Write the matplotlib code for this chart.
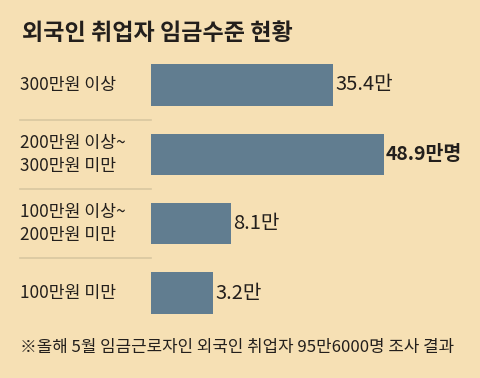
import matplotlib
matplotlib.use("Agg")
import matplotlib.pyplot as plt
from matplotlib.transforms import blended_transform_factory

plt.rcParams['font.family'] = ['Noto Sans CJK KR', 'DejaVu Sans']

title = "외국인 취업자 임금수준 현황"
categories = ["300만원 이상", "200만원 이상~\n300만원 미만", "100만원 이상~\n200만원 미만", "100만원 미만"]
values = [35.4, 48.9, 8.1, 3.2]
value_labels = ["35.4만", "48.9만명", "8.1만", "3.2만"]
highlight = [False, True, False, False]
footnote = "※올해 5월 임금근로자인 외국인 취업자 95만6000명 조사 결과"

BG = "#f6e0b4"
BAR = "#617d90"
SEP = "#d9c7a0"
TXT = "#231f1c"

W, H = 480, 378
fig = plt.figure(figsize=(W / 100, H / 100), dpi=100, facecolor=BG)

base = -13.36          # visual baseline offset (infographic bars start below zero)
px_per_unit = 3.742
left_px = 151
top_px, bot_px = 50.3, 327.7
ax = fig.add_axes([left_px / W, (H - bot_px) / H, (W - left_px) / W, (bot_px - top_px) / H])
ax.set_facecolor(BG)
ax.set_xlim(base, base + (W - left_px) / px_per_unit)
ax.set_ylim(len(values) - 0.5, -0.5)
ax.axis('off')

ypos = list(range(len(values)))
widths = [v - base for v in values]
ax.barh(ypos, widths, left=base, height=0.6, color=BAR)

for y, v, lab, hl in zip(ypos, values, value_labels, highlight):
    ax.annotate(lab, (v, y), xytext=(1.5, 0), textcoords='offset points',
                va='center', ha='left', fontsize=14 if hl else 14.5,
                fontweight='bold' if hl else 'normal', color=TXT)

tr = blended_transform_factory(fig.transFigure, ax.transData)
for y, c in zip(ypos, categories):
    ax.text(20 / W, y, c, transform=tr, ha='left', va='center', fontsize=12.4,
            color=TXT, linespacing=1.35)

for y in [0.5, 1.5, 2.5]:
    ax.plot([20 / W, 151 / W], [y, y], transform=tr, color=SEP, lw=1.2, clip_on=False)

fig.text(22 / W, 1 - 34 / H, title, ha='left', va='center', fontsize=16.6,
         fontweight='bold', color=TXT)
fig.text(20 / W, 1 - 347 / H, footnote, ha='left', va='center', fontsize=12.1, color=TXT)

fig.savefig("out.png", dpi=100, facecolor=BG)
